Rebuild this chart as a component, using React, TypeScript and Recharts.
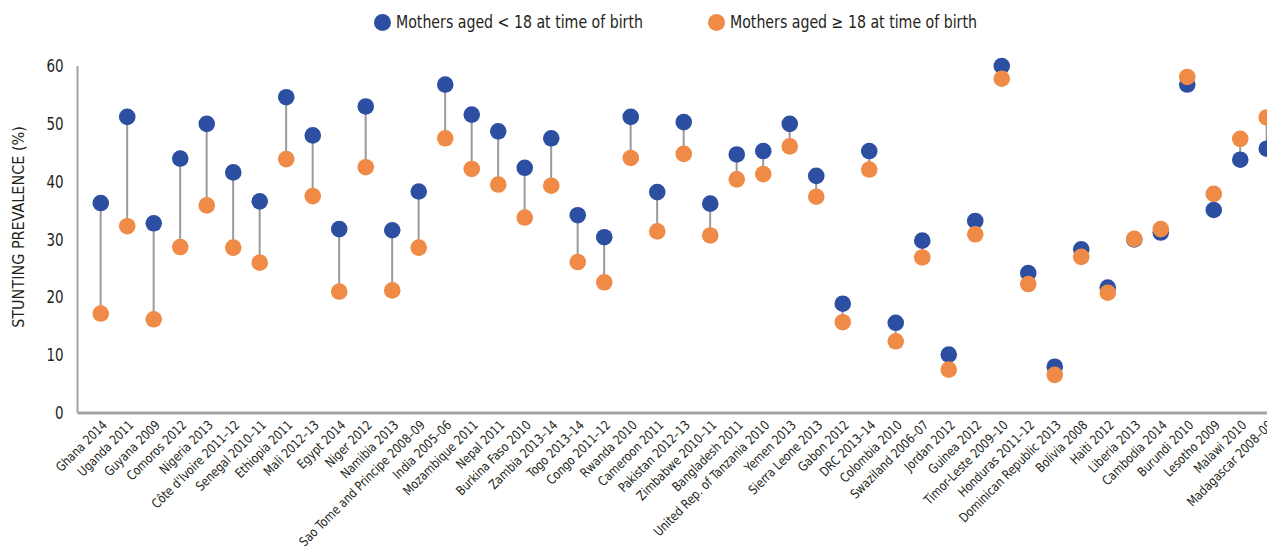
import React from 'react'
import {
  ComposedChart,
  Bar,
  Scatter,
  XAxis,
  YAxis,
  Label,
} from 'recharts'

const countries = [
  'Ghana 2014',
  'Uganda 2011',
  'Guyana 2009',
  'Comoros 2012',
  'Nigeria 2013',
  "Côte d'Ivoire 2011–12",
  'Senegal 2010–11',
  'Ethiopia 2011',
  'Mali 2012–13',
  'Egypt 2014',
  'Niger 2012',
  'Namibia 2013',
  'Sao Tome and Principe 2008–09',
  'India 2005–06',
  'Mozambique 2011',
  'Nepal 2011',
  'Burkina Faso 2010',
  'Zambia 2013–14',
  'Togo 2013–14',
  'Congo 2011–12',
  'Rwanda 2010',
  'Cameroon 2011',
  'Pakistan 2012–13',
  'Zimbabwe 2010–11',
  'Bangladesh 2011',
  'United Rep. of Tanzania 2010',
  'Yemen 2013',
  'Sierra Leone 2013',
  'Gabon 2012',
  'DRC 2013–14',
  'Colombia 2010',
  'Swaziland 2006–07',
  'Jordan 2012',
  'Guinea 2012',
  'Timor-Leste 2009–10',
  'Honduras 2011–12',
  'Dominican Republic 2013',
  'Bolivia 2008',
  'Haiti 2012',
  'Liberia 2013',
  'Cambodia 2014',
  'Burundi 2010',
  'Lesotho 2009',
  'Malawi 2010',
  'Madagascar 2008–09',
]

// mothers aged < 18 at time of birth
const under18 = [
  36.3, 51.2, 32.8, 44.0, 50.0, 41.6, 36.6, 54.6, 48.0, 31.8, 53.0, 31.6, 38.3,
  56.8, 51.6, 48.7, 42.4, 47.5, 34.2, 30.4, 51.2, 38.2, 50.3, 36.2, 44.7, 45.3,
  50.0, 41.0, 18.9, 45.3, 15.6, 29.8, 10.1, 33.2, 60.0, 24.2, 8.0, 28.3, 21.7,
  30.0, 31.2, 56.8, 35.1, 43.8, 45.7,
]

// mothers aged >= 18 at time of birth
const over18 = [
  17.2, 32.3, 16.2, 28.7, 35.9, 28.6, 26.0, 43.9, 37.5, 21.0, 42.5, 21.2, 28.6,
  47.5, 42.2, 39.5, 33.8, 39.3, 26.1, 22.6, 44.1, 31.4, 44.8, 30.7, 40.4, 41.3,
  46.1, 37.4, 15.7, 42.1, 12.4, 26.9, 7.5, 30.9, 57.8, 22.3, 6.6, 27.0, 20.8,
  30.1, 31.8, 58.1, 37.9, 47.4, 51.1,
]

const yTicks = [0, 10, 20, 30, 40, 50, 60]

const BLUE = '#2d4fa2'
const ORANGE = '#ef8a47'
const FONT = '"Liberation Sans Narrow", "DejaVu Sans Condensed", "Open Sans", sans-serif'
const TEXT = '#231f20'

const data = countries.map((name, i) => ({
  name,
  under18: under18[i],
  over18: over18[i],
  range: [Math.min(under18[i], over18[i]), Math.max(under18[i], over18[i])],
}))

// thin grey connector between the two dots
const Connector = (props: any) => {
  const { x, y, width, height } = props
  const cx = x + width / 2
  const top = Math.min(y, y + height)
  const bottom = Math.max(y, y + height)
  return <line x1={cx} x2={cx} y1={top} y2={bottom} stroke="#9a9a9a" strokeWidth={2} />
}

const Dot = (color: string) => (props: any) => {
  const { cx, cy } = props
  return <circle cx={cx} cy={cy} r={8.3} fill={color} />
}

const XTick = ({ x, y, payload }: any) => (
  <text
    transform={`translate(${x + 7}, ${y + 13}) rotate(-45) scale(0.92, 1)`}
    textAnchor="end"
    fontSize={13}
    fontFamily={FONT}
    fill={TEXT}
  >
    {payload.value}
  </text>
)

const YTick = ({ x, y, payload }: any) => (
  <text
    transform={`translate(${x}, ${y}) scale(0.88, 1)`}
    dy="0.36em"
    textAnchor="end"
    fontSize={17}
    fontFamily={FONT}
    fill={TEXT}
  >
    {payload.value}
  </text>
)

const legendText: React.CSSProperties = {
  position: 'absolute',
  top: 10,
  fontFamily: FONT,
  fontSize: 17,
  lineHeight: '24px',
  color: TEXT,
  whiteSpace: 'nowrap',
  transform: 'scaleX(0.925)',
  transformOrigin: 'left center',
}

const legendDot = (color: string, left: number): React.CSSProperties => ({
  position: 'absolute',
  left,
  top: 13.5,
  width: 17,
  height: 17,
  borderRadius: '50%',
  background: color,
})

export default function App() {
  return (
    <div
      style={{
        position: 'relative',
        width: 1275,
        height: 554,
        overflow: 'hidden',
        background: '#fff',
        margin: -8,
      }}
    >
      <div style={legendDot(BLUE, 373.5)} />
      <div style={{ ...legendText, left: 396 }}>Mothers aged &lt; 18 at time of birth</div>
      <div style={legendDot(ORANGE, 707.5)} />
      <div style={{ ...legendText, left: 730 }}>Mothers aged ≥ 18 at time of birth</div>

      <ComposedChart
        width={1285}
        height={554}
        data={data}
        margin={{ top: 66, right: 0, bottom: 0, left: 0 }}
      >
        <XAxis
          dataKey="name"
          interval={0}
          tickLine={false}
          tickSize={0}
          tickMargin={0}
          height={141}
          padding={{ left: 10, right: 5 }}
          axisLine={{ stroke: '#a3a3a3', strokeWidth: 3 }}
          tick={<XTick />}
        />
        <YAxis
          type="number"
          domain={[0, 60]}
          ticks={yTicks}
          interval={0}
          width={77.5}
          tickLine={false}
          tickSize={0}
          tickMargin={14}
          axisLine={{ stroke: '#a3a3a3', strokeWidth: 2 }}
          tick={<YTick />}
        >
          <Label
            content={() => (
              <text
                transform="translate(24, 227) rotate(-90)"
                textAnchor="middle"
                fontSize={16}
                fontFamily={FONT}
                fill={TEXT}
              >
                STUNTING PREVALENCE (%)
              </text>
            )}
          />
        </YAxis>
        <Bar dataKey="range" shape={<Connector />} isAnimationActive={false} />
        <Scatter dataKey="under18" shape={Dot(BLUE)} isAnimationActive={false} />
        <Scatter dataKey="over18" shape={Dot(ORANGE)} isAnimationActive={false} />
      </ComposedChart>
    </div>
  )
}
